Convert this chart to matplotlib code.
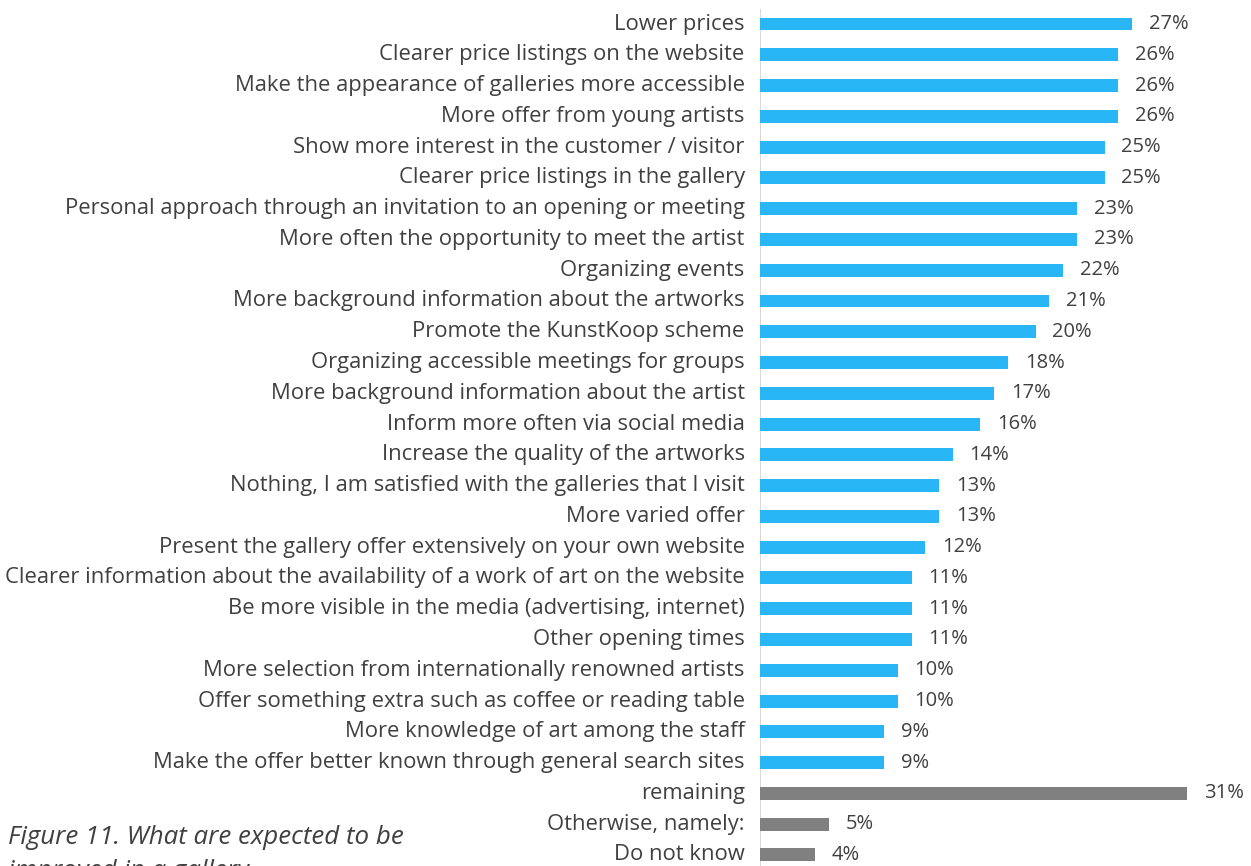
import numpy as np
import matplotlib.pyplot as plt

categories = [
    "Lower prices",
    "Clearer price listings on the website",
    "Make the appearance of galleries more accessible",
    "More offer from young artists",
    "Show more interest in the customer / visitor",
    "Clearer price listings in the gallery",
    "Personal approach through an invitation to an opening or meeting",
    "More often the opportunity to meet the artist",
    "Organizing events",
    "More background information about the artworks",
    "Promote the KunstKoop scheme",
    "Organizing accessible meetings for groups",
    "More background information about the artist",
    "Inform more often via social media",
    "Increase the quality of the artworks",
    "Nothing, I am satisfied with the galleries that I visit",
    "More varied offer",
    "Present the gallery offer extensively on your own website",
    "Clearer information about the availability of a work of art on the website",
    "Be more visible in the media (advertising, internet)",
    "Other opening times",
    "More selection from internationally renowned artists",
    "Offer something extra such as coffee or reading table",
    "More knowledge of art among the staff",
    "Make the offer better known through general search sites",
    "remaining",
    "Otherwise, namely:",
    "Do not know",
]
values = [27, 26, 26, 26, 25, 25, 23, 23, 22, 21, 20, 18, 17, 16, 14, 13, 13,
          12, 11, 11, 11, 10, 10, 9, 9, 31, 5, 4]
n_blue = 25

plt.rcParams['font.family'] = ['Open Sans', 'DejaVu Sans']
text_color = '#404040'

fig = plt.figure(figsize=(12.51, 8.66), dpi=100)
ax = fig.add_axes([760 / 1251, 0, 1 - 760 / 1251, 1])

y = np.arange(len(categories))
colors = ['#29B6F6'] * n_blue + ['#808080'] * (len(categories) - n_blue)
ax.barh(y, values, height=0.42, color=colors, left=0)

for yi, v in zip(y, values):
    ax.annotate(f"{v}%", xy=(v, yi), xytext=(12, 0), textcoords='offset points',
                va='center', ha='left', fontsize=14.5, color=text_color)

for yi, c in zip(y, categories):
    ax.annotate(c, xy=(0, yi), xytext=(-11, 0), textcoords='offset points',
                ha='right', va='center', fontsize=15.8, color=text_color,
                annotation_clip=False)

px_per_pct = 13.78
ax.set_xlim(0, (1251 - 760) / px_per_pct)
ax.set_ylim(27.36, -0.78)
ax.axvline(0, ymin=0, ymax=1 - 10 / 866, color='#d9d9d9', lw=1.5, zorder=0)

for s in ax.spines.values():
    s.set_visible(False)
ax.set_xticks([])
ax.set_yticks([])

caption = ["Figure 11. What are expected to be", "improved in a gallery"]
for i, line in enumerate(caption):
    fig.text(8 / 1251, 1 - (838 + 34 * i) / 866, line,
             ha='left', va='center', fontsize=18.6, style='italic',
             color=text_color)

fig.savefig('out.png', dpi=100)
